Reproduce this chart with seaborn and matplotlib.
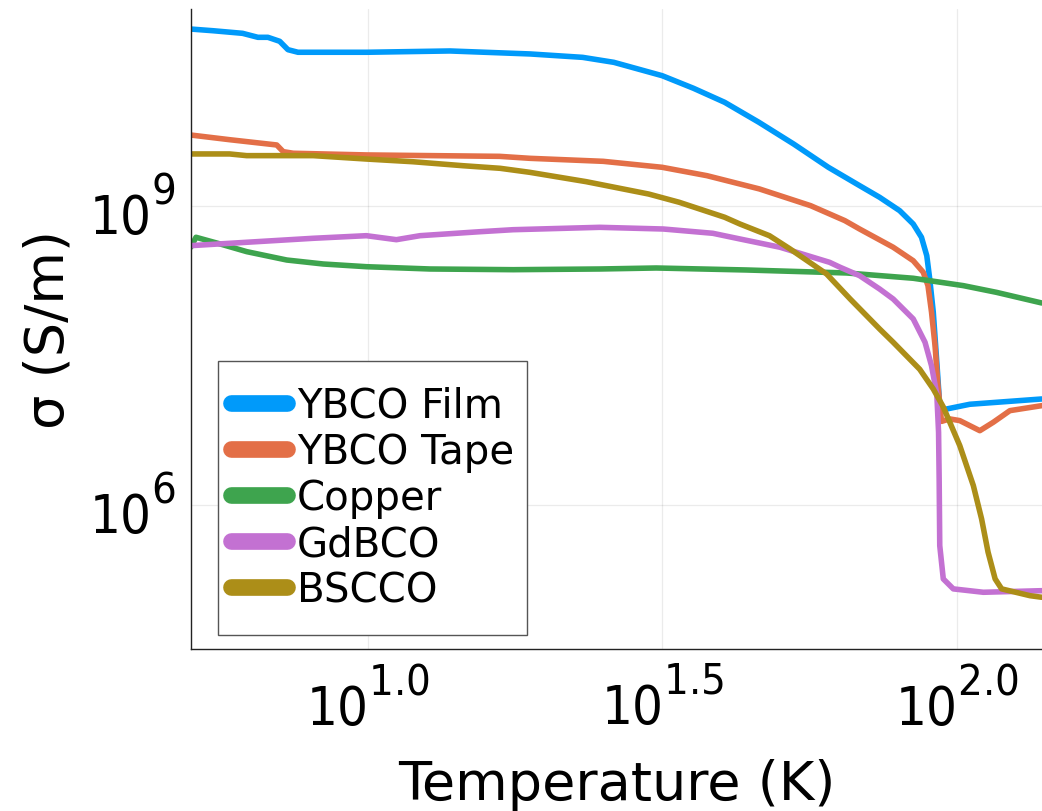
import numpy as np
import pandas as pd
import matplotlib
matplotlib.use("Agg")
import matplotlib.pyplot as plt
import seaborn as sns
from matplotlib.lines import Line2D
from matplotlib.patches import Rectangle
from matplotlib.ticker import FixedLocator, FixedFormatter, NullLocator

try:
    import matplotlib._mathtext as _mt
    _mt.SHRINK_FACTOR = 0.8
    for _name in dir(_mt):
        _obj = getattr(_mt, _name)
        if isinstance(_obj, type) and issubclass(_obj, _mt.FontConstantsBase):
            _obj.sup1 = 1.05
except Exception:
    pass

# ---- data (log10 of temperature in K, log10 of conductivity in S/m) ----
materials = ["YBCO Film", "YBCO Tape", "Copper", "GdBCO", "BSCCO"]
colors = ["#009AFA", "#E36F47", "#3EA44E", "#C371D2", "#AC8E18"]

ybco_film_logT = [0.700, 0.738, 0.788, 0.814, 0.831, 0.851, 0.865, 0.882, 0.999, 1.140, 1.276,
                  1.365, 1.418, 1.500, 1.553, 1.606, 1.664, 1.723, 1.782, 1.835, 1.869, 1.903,
                  1.926, 1.940, 1.949, 1.954, 1.960, 1.966, 1.971, 1.974, 1.983, 2.022, 2.144]
ybco_film_logS = [10.772, 10.755, 10.729, 10.689, 10.689, 10.649, 10.565, 10.539, 10.539, 10.552, 10.522,
                  10.488, 10.438, 10.304, 10.178, 10.037, 9.837, 9.619, 9.385, 9.201, 9.084, 8.950,
                  8.816, 8.683, 8.498, 8.265, 7.934, 7.432, 6.994, 6.928, 6.961, 7.008, 7.061]

ybco_tape_logT = [0.700, 0.766, 0.846, 0.857, 0.874, 0.999, 1.224, 1.276, 1.400, 1.500, 1.576,
                  1.665, 1.752, 1.810, 1.835, 1.892, 1.926, 1.943, 1.951, 1.957, 1.963, 1.968,
                  1.974, 1.988, 2.005, 2.039, 2.062, 2.090, 2.144]
ybco_tape_logS = [9.709, 9.662, 9.609, 9.542, 9.526, 9.509, 9.495, 9.475, 9.445, 9.385, 9.301,
                  9.168, 9.000, 8.850, 8.766, 8.583, 8.448, 8.332, 8.198, 7.934, 7.596, 7.195,
                  6.836, 6.861, 6.844, 6.743, 6.828, 6.944, 6.994]

copper_logT = [0.700, 0.709, 0.750, 0.795, 0.863, 0.925, 0.998, 1.106, 1.247, 1.394, 1.490,
               1.643, 1.813, 1.926, 2.011, 2.067, 2.144]
copper_logS = [8.583, 8.683, 8.616, 8.539, 8.455, 8.415, 8.388, 8.365, 8.358, 8.365, 8.375,
               8.355, 8.325, 8.272, 8.198, 8.131, 8.024]

gdbco_logT = [0.700, 0.795, 0.908, 0.998, 1.049, 1.089, 1.191, 1.247, 1.394, 1.502, 1.586,
              1.632, 1.700, 1.784, 1.802, 1.835, 1.869, 1.892, 1.926, 1.946, 1.957, 1.966,
              1.969, 1.970, 1.971, 1.977, 1.994, 2.045, 2.144]
gdbco_logS = [8.599, 8.633, 8.673, 8.699, 8.659, 8.699, 8.739, 8.759, 8.783, 8.766, 8.723,
              8.666, 8.583, 8.432, 8.382, 8.298, 8.164, 8.064, 7.864, 7.630, 7.395, 7.111,
              6.727, 6.259, 5.590, 5.256, 5.156, 5.122, 5.138]

bscco_logT = [0.700, 0.766, 0.795, 0.908, 0.998, 1.077, 1.162, 1.225, 1.275, 1.371, 1.477,
              1.529, 1.606, 1.632, 1.682, 1.717, 1.779, 1.819, 1.869, 1.892, 1.937,
              1.960, 1.977, 2.005, 2.028, 2.042, 2.053, 2.065, 2.076, 2.124, 2.144]
bscco_logS = [9.519, 9.519, 9.502, 9.502, 9.468, 9.441, 9.401, 9.375, 9.335, 9.241, 9.117,
              9.034, 8.884, 8.816, 8.699, 8.566, 8.315, 8.064, 7.763, 7.630, 7.359,
              7.161, 6.981, 6.593, 6.192, 5.858, 5.524, 5.256, 5.156, 5.088, 5.072]

xtick_exps = [1.0, 1.5, 2.0]
xtick_labels = ["$10^{1.0}$", "$10^{1.5}$", "$10^{2.0}$"]
ytick_exps = [6, 9]
ytick_labels = ["$10^{6}$", "$10^{9}$"]
x_lim_exps = (0.700, 2.1445)
y_lim_exps = (4.553, 10.973)

series = [
    (ybco_film_logT, ybco_film_logS),
    (ybco_tape_logT, ybco_tape_logS),
    (copper_logT, copper_logS),
    (gdbco_logT, gdbco_logS),
    (bscco_logT, bscco_logS),
]

frames = []
for name, (lt, ls) in zip(materials, series):
    frames.append(pd.DataFrame({
        "T": np.power(10.0, lt),
        "sigma": np.power(10.0, ls),
        "material": name,
    }))
df = pd.concat(frames, ignore_index=True)

# ---- style ----
sns.set_theme(style="white")
plt.rcParams["font.family"] = ["DejaVu Sans"]
plt.rcParams["mathtext.fontset"] = "custom"
plt.rcParams["mathtext.rm"] = "DejaVu Sans:stretch=condensed"
plt.rcParams["mathtext.it"] = "DejaVu Sans:stretch=condensed"
plt.rcParams["mathtext.bf"] = "DejaVu Sans:stretch=condensed:bold"
plt.rcParams["mathtext.default"] = "rm"
for k in ["text.color", "axes.labelcolor", "xtick.color", "ytick.color"]:
    plt.rcParams[k] = "black"

W, H = 1042, 812
fig = plt.figure(figsize=(W / 100, H / 100), dpi=100)
ax_l, ax_r, ax_t, ax_b = 190.7, 1042, 10, 650
ax = fig.add_axes([ax_l / W, 1 - ax_b / H, (ax_r - ax_l) / W, (ax_b - ax_t) / H])

palette = dict(zip(materials, colors))
sns.lineplot(data=df, x="T", y="sigma", hue="material", hue_order=materials,
             palette=palette, estimator=None, sort=False, units="material",
             linewidth=4.0, legend=False, ax=ax)

ax.set_xscale("log")
ax.set_yscale("log")
ax.set_xlim(10 ** x_lim_exps[0], 10 ** x_lim_exps[1])
ax.set_ylim(10 ** y_lim_exps[0], 10 ** y_lim_exps[1])

ax.xaxis.set_major_locator(FixedLocator([10 ** e for e in xtick_exps]))
ax.xaxis.set_major_formatter(FixedFormatter(xtick_labels))
ax.yaxis.set_major_locator(FixedLocator([10.0 ** e for e in ytick_exps]))
ax.yaxis.set_major_formatter(FixedFormatter(ytick_labels))
ax.xaxis.set_minor_locator(NullLocator())
ax.yaxis.set_minor_locator(NullLocator())

ax.tick_params(axis="both", which="major", direction="in", length=4, width=0.8,
               color="#333333", labelsize=39, labelcolor="black")
ax.tick_params(axis="x", pad=14)
ax.tick_params(axis="y", pad=11)

ax.grid(True, color="black", alpha=0.08, linewidth=0.9)
for s in ["top", "right"]:
    ax.spines[s].set_visible(False)
for s in ["left", "bottom"]:
    ax.spines[s].set_color("#222222")
    ax.spines[s].set_linewidth(1.0)

ax.set_xlabel("Temperature (K)", fontsize=39, color="black", labelpad=16)
ax.set_ylabel("σ (S/m)", fontsize=39, color="black", labelpad=10)

# ---- legend ----
handles = [Line2D([0], [0], color=c, linewidth=12, solid_capstyle="round") for c in colors]
lx0, lx1, ly0, ly1 = 218, 527, 362, 636
fig.patches.append(Rectangle((lx0 / W, 1 - ly1 / H), (lx1 - lx0) / W, (ly1 - ly0) / H,
                             transform=fig.transFigure, fill=True, facecolor="white",
                             edgecolor="#555555", linewidth=1.0, zorder=5))
leg = fig.legend(handles, materials, loc="center",
                 bbox_to_anchor=((lx0 + lx1) / 2 / W, 1 - (ly0 + ly1) / 2 / H),
                 frameon=False, fontsize=29, handlelength=1.4, handletextpad=0.25,
                 labelspacing=0.15, borderpad=0.0, labelcolor="black")
leg.set_zorder(6)

fig.savefig("out.png", dpi=100)
